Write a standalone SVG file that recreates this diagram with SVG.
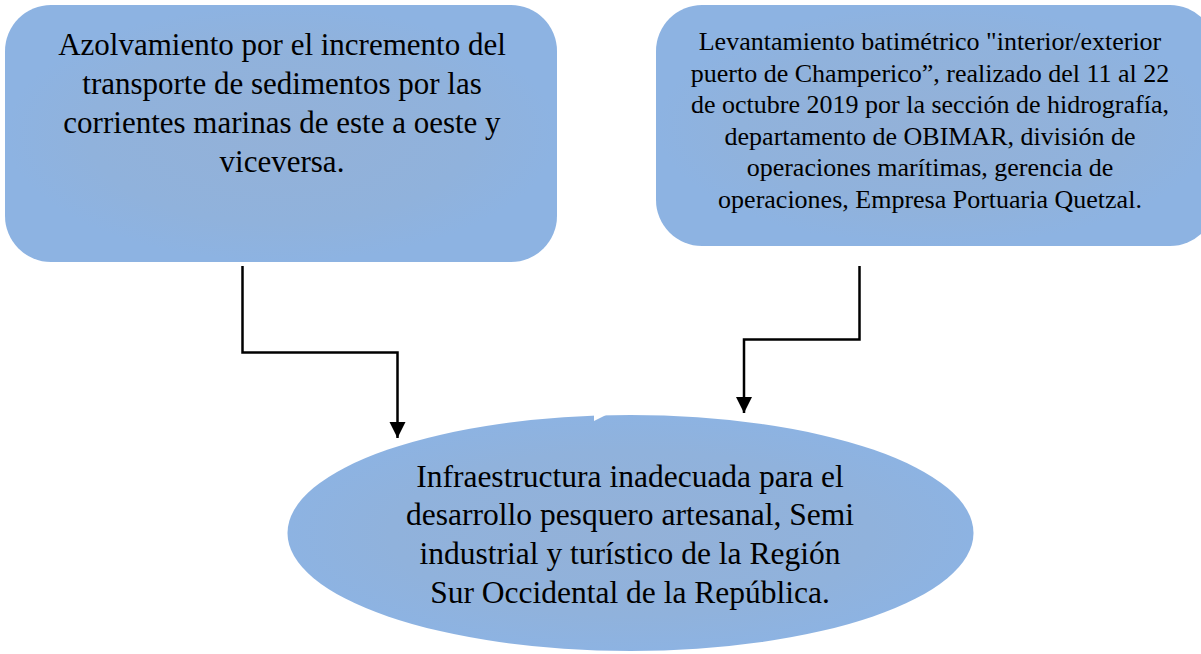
<svg xmlns="http://www.w3.org/2000/svg" width="1201" height="654" viewBox="0 0 1201 654">
<style>
.shape{fill:url(#g);}
.t{font-family:"Liberation Serif","Times New Roman",serif;fill:#000;text-anchor:middle;}
.big{font-size:31px;}
.ell{font-size:31.5px;}
.small{font-size:26px;}
.conn{fill:none;stroke:#000;stroke-width:2.5;}
</style>
<defs>
<radialGradient id="g" cx="50%" cy="50%" r="50%">
<stop offset="0" stop-color="#93B1D8"/>
<stop offset="0.7" stop-color="#90B2DC"/>
<stop offset="1" stop-color="#8DB3E2"/>
</radialGradient>
<marker id="arr" markerUnits="userSpaceOnUse" markerWidth="17" markerHeight="17" viewBox="0 0 17 17" refX="16" refY="8.5" orient="auto">
<polygon points="0,0.5 16,8.5 0,16.5" fill="#000"/>
</marker>
</defs>
<rect width="1201" height="654" fill="#fff"/>
<g id="node-azolvamiento">
<rect class="shape" x="5" y="5" width="552" height="257" rx="46" ry="46"/>
<text class="t big"><tspan x="282" y="55">Azolvamiento por el incremento del</tspan><tspan x="282" y="94">transporte de sedimentos por las</tspan><tspan x="282" y="133">corrientes marinas de este a oeste y</tspan><tspan x="282" y="172">viceversa.</tspan></text>
</g>
<g id="node-levantamiento">
<rect class="shape" x="656" y="5" width="560" height="241" rx="46" ry="46"/>
<text class="t small"><tspan x="930" y="50">Levantamiento batimétrico "interior/exterior</tspan><tspan x="930" y="82">puerto de Champerico”, realizado del 11 al 22</tspan><tspan x="930" y="113">de octubre 2019 por la sección de hidrografía,</tspan><tspan x="930" y="145">departamento de OBIMAR, división de</tspan><tspan x="930" y="176">operaciones marítimas, gerencia de</tspan><tspan x="930" y="208">operaciones, Empresa Portuaria Quetzal.</tspan></text>
</g>
<g id="node-infraestructura">
<ellipse class="shape" cx="630.5" cy="533" rx="343" ry="118"/>
<polygon points="594,411 594,421 610,413" fill="#fff"/>
<text class="t ell"><tspan x="630" y="487">Infraestructura inadecuada para el</tspan><tspan x="630" y="525">desarrollo pesquero artesanal, Semi</tspan><tspan x="630" y="564">industrial y turístico de la Región</tspan><tspan x="630" y="603">Sur Occidental de la República.</tspan></text>
</g>
<g id="connectors">
<path class="conn" d="M242.5,266 V352.5 H397.5 V438" marker-end="url(#arr)"/>
<path class="conn" d="M859.5,266 V339.5 H744 V413" marker-end="url(#arr)"/>
</g>
</svg>
